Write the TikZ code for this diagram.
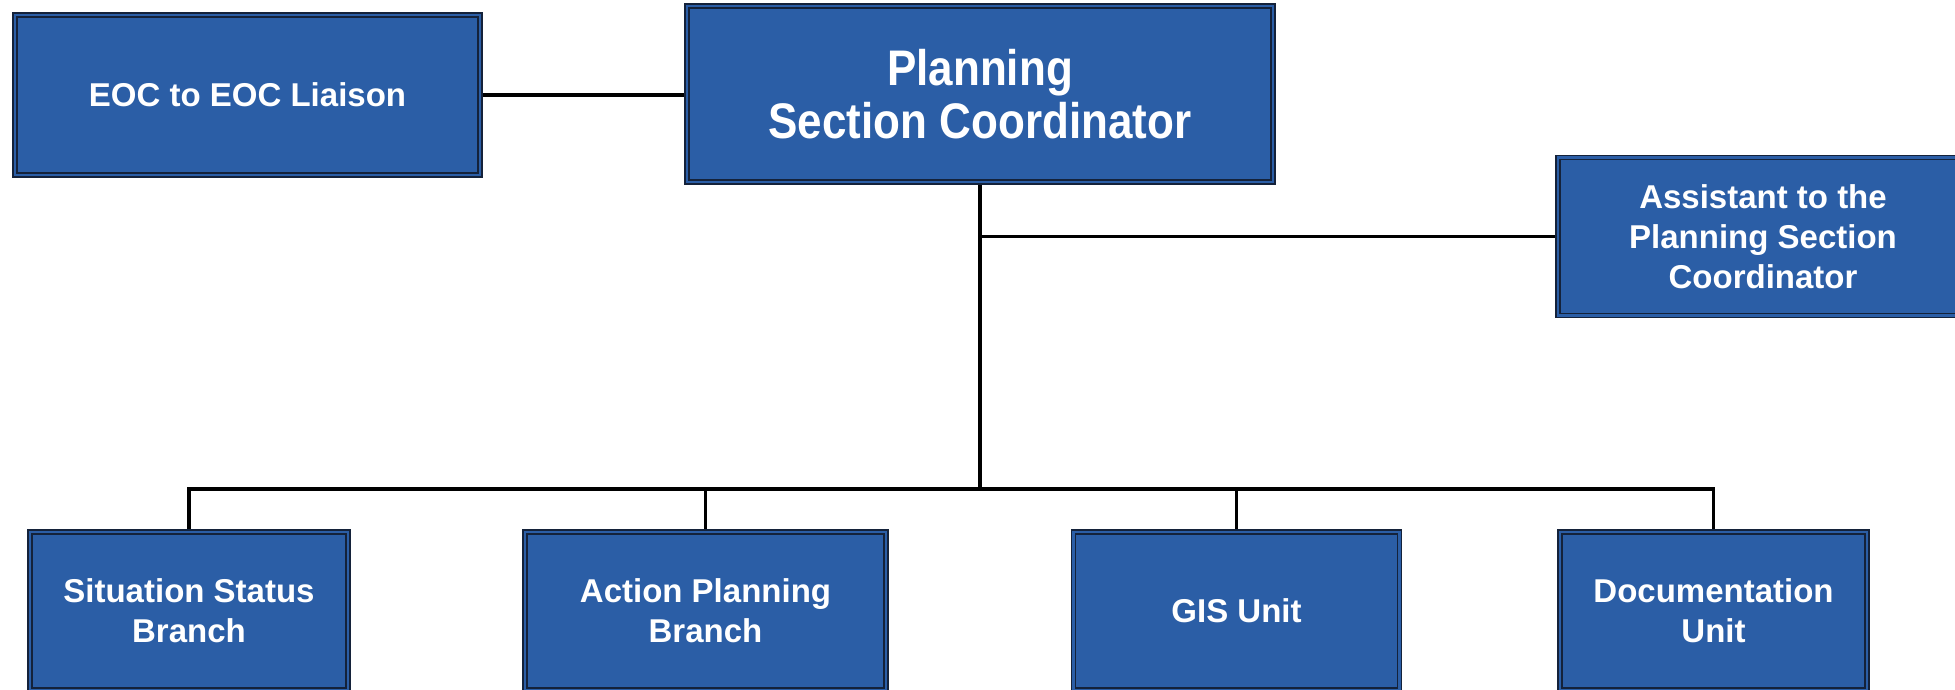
\documentclass[tikz,border=0pt]{standalone}
\usepackage{fontspec}
\setmainfont{Liberation Sans}
\newfontfamily\narrowbold{Liberation Sans}[FakeStretch=0.88]
\usetikzlibrary{backgrounds}
\definecolor{boxblue}{RGB}{43,94,166}
\definecolor{boxedge}{RGB}{20,34,58}
\begin{document}
\begin{tikzpicture}[x=0.5pt,y=-0.5pt,
  unit/.style={rectangle, inner sep=0pt, fill=boxblue, draw=boxedge,
    double=boxblue, double distance=1.1pt, line width=0.75pt,
    text=white, align=center,
    font=\bfseries\fontsize{16.5pt}{20pt}\selectfont},
  headunit/.style={unit, font=\narrowbold\bfseries\fontsize{25pt}{26.5pt}\selectfont},
  link/.style={draw=black, line width=1.8pt, line join=miter}]
\useasboundingbox (0,0) rectangle (1955,690);

% top row
\node[unit, minimum width=232.5pt, minimum height=80pt] (eoc) at (247.5,95) {EOC to EOC Liaison};
\node[headunit, minimum width=293pt, minimum height=88pt] (psc) at (980,94) {Planning\\Section Coordinator};
\node[unit, minimum width=205pt, minimum height=79pt] (asst) at (1763,236.5) {Assistant to the\\Planning Section\\Coordinator};

% bottom row
\node[unit, minimum width=159pt, minimum height=79pt] (sit) at (189,611) {Situation Status\\Branch};
\node[unit, minimum width=180.5pt, minimum height=79pt] (act) at (705.5,611) {Action Planning\\Branch};
\node[unit, minimum width=163pt, minimum height=79pt] (gis) at (1236.5,611) {GIS Unit};
\node[unit, minimum width=153.5pt, minimum height=79pt] (doc) at (1713.5,611) {Documentation\\Unit};

\coordinate (bus) at (981,489);

% connectors
\begin{scope}[on background layer]
\draw[link] (eoc.east) -- (eoc.east -| psc.west);
\draw[link] (psc.south) -- (psc.south |- bus);
\draw[link] (psc.south |- asst.west) -- (asst.west);
\draw[link] (sit.north) -- (sit.north |- bus) -- (doc.north |- bus) -- (doc.north);
\draw[link] (act.north) -- (act.north |- bus);
\draw[link] (gis.north) -- (gis.north |- bus);
\end{scope}
\end{tikzpicture}
\end{document}
